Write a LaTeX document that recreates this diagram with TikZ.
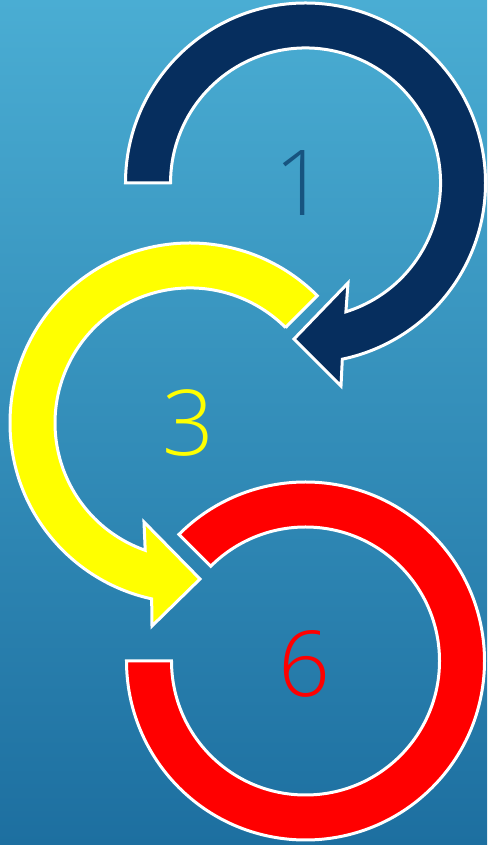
\documentclass[tikz,border=0pt]{standalone}
\usepackage{fontspec}
\newfontfamily\numfont{Open Sans Light}
\definecolor{bgtop}{RGB}{74,173,211}
\definecolor{bgbot}{RGB}{29,111,160}
\definecolor{navy}{RGB}{6,46,94}
\definecolor{onecol}{RGB}{23,84,128}
\definecolor{yel}{RGB}{255,255,0}
\definecolor{rd}{RGB}{255,0,0}
\tikzset{
  ring/.style={draw=white, line width=3pt, line join=miter},
  numlabel/.style={inner sep=0pt, anchor=center, font=\numfont\fontsize{91}{100}\selectfont}
}
\begin{document}
\begin{tikzpicture}[x=1pt,y=1pt]
\useasboundingbox (0,0) rectangle (487,845);
\shade[top color=bgtop, bottom color=bgbot] (0,0) rectangle (487,845);
\begin{scope}[shift={(0,845)}, yscale=-1]
  % navy arrow
  \draw[ring, fill=navy] (305.5,183) ++(180:135) -- ++(180:45)
     arc[start angle=180, end angle=438.2, radius=180]
     -- (341,386) -- (294,339) -- (348,283) -- (345.9,311.8)
     arc[start angle=432.6, end angle=180, radius=135] -- cycle;
  % yellow arrow
  \draw[ring, fill=yel] (190,423) ++(315:135) -- ++(315:45)
     arc[start angle=315, end angle=102.3, radius=180]
     -- (152,626) -- (200,579) -- (144,522) -- (145.2,550.3)
     arc[start angle=109.4, end angle=315, radius=135] -- cycle;
  % red ring
  \draw[ring, fill=rd] (305.5,661) ++(225:134) -- ++(225:45)
     arc[start angle=225, end angle=540, radius=179]
     -- ++(0:45)
     arc[start angle=540, end angle=225, radius=134] -- cycle;
  \node[numlabel, text=onecol] (n1) at (300,183) {1};
  \node[numlabel, text=yel] (n3) at (188,423) {3};
  \node[numlabel, text=rd] (n6) at (304,664) {6};
\end{scope}
\end{tikzpicture}
\end{document}
